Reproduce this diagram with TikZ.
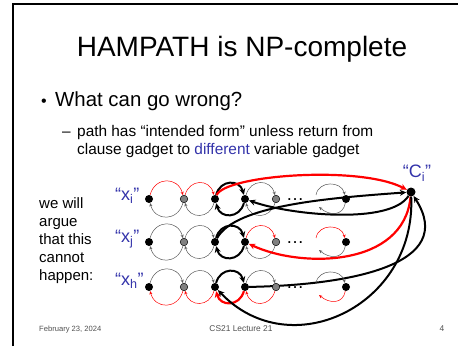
\documentclass[tikz,border=0pt]{standalone}
\usepackage{fontspec}
\setmainfont{Liberation Sans}
\usetikzlibrary{arrows.meta}
\definecolor{slblue}{RGB}{51,51,170}
\definecolor{arcgray}{RGB}{90,90,90}
\definecolor{pred}{RGB}{255,0,0}
\definecolor{nodegray}{RGB}{128,128,128}
\definecolor{footgray}{RGB}{80,80,80}
\pgfdeclarelayer{bg}
\pgfsetlayers{bg,main}
\begin{document}
\begin{tikzpicture}[x=1pt,y=1pt,
  vtx/.style={circle,fill=black,inner sep=0pt,minimum size=8pt},
  cvtx/.style={circle,fill=black,inner sep=0pt,minimum size=9pt},
  gvtx/.style={circle,fill=nodegray,draw=black,line width=0.5pt,inner sep=0pt,minimum size=7.5pt},
  dotsnode/.style={font=\fontsize{18}{18}\selectfont,inner sep=0pt,anchor=base},
  tarc/.style={line width=0.5pt,draw=arcgray,-{Stealth[length=3.5pt,width=3pt]}},
  tred/.style={line width=0.5pt,draw=pred,-{Stealth[length=3.5pt,width=3pt]}},
  karc/.style={line width=2pt,draw=black,-{Stealth[length=6.5pt,width=6pt]}},
  kred/.style={line width=2.2pt,draw=pred,-{Stealth[length=6.5pt,width=6pt]}},
  arcup/.style={out=75,in=105,looseness=1.5},
  arcdown/.style={out=-105,in=-75,looseness=1.5},
  parcup/.style={out=80,in=105,looseness=1.3},
  parcdown/.style={out=-100,in=-40,looseness=1.3},
  lbl/.style={font=\fontsize{18}{20}\selectfont,text=slblue,inner sep=0pt},
  foot/.style={text=footgray,inner sep=0pt,anchor=base}
]
\useasboundingbox (0,0) rectangle (458,346);
% slide frame
\draw[line width=2.3pt,line join=miter] (13,0) -- (13,342) -- (458,342);

% title and text
\node[inner sep=0pt,anchor=base,font=\fontsize{28}{30}\selectfont] (title) at (242,289) {HAMPATH is NP-complete};
\node[inner sep=0pt,anchor=base,font=\fontsize{16}{18}\selectfont] (bul) at (44,239) {•};
\node[inner sep=0pt,anchor=base west,font=\fontsize{20.4}{24}\selectfont] (l1) at (55,239) {What can go wrong?};
\node[inner sep=0pt,anchor=base west,font=\fontsize{15.4}{18}\selectfont] (dash) at (62,209) {–};
\node[inner sep=0pt,anchor=base west,font=\fontsize{15.4}{18}\selectfont] (l2) at (77,209)
  {\parbox[t]{300pt}{\raggedright path has “intended form” unless return from\\
   clause gadget to \textcolor{slblue}{different} variable gadget}};
\node[inner sep=0pt,anchor=base west,font=\fontsize{15}{18}\selectfont] (side) at (39,138)
  {\parbox[t]{75pt}{\raggedright we will\\ argue\\ that this\\ cannot\\ happen:}};

% footer
\node[foot,anchor=base west,font=\fontsize{7.6}{9}\selectfont] (date) at (39,15) {February 23, 2024};
\node[foot,font=\fontsize{8.4}{10}\selectfont] (lect) at (241,15) {CS21 Lecture 21};
\node[foot,font=\fontsize{8.4}{10}\selectfont] (pnum) at (442,15) {4};

% variable gadget labels
\node[lbl,anchor=base west] (xi) at (115,146) {“x\textsubscript{i}”};
\node[lbl,anchor=base west] (xj) at (115,104) {“x\textsubscript{j}”};
\node[lbl,anchor=base west] (xh) at (115,61) {“x\textsubscript{h}”};

% clause node
\node[cvtx] (ci) at (411,154) {};
\node[lbl,anchor=base] (cil) at (417,168) {“C\textsubscript{i}”};

% rows of nodes
\foreach \r/\y in {1/147,2/104,3/59} {
  \node[vtx] (a\r) at (149,\y) {};
  \node[gvtx] (b\r) at (184,\y) {};
  \node[vtx] (c\r) at (215,\y) {};
  \node[vtx] (d\r) at (245,\y) {};
  \node[gvtx] (e\r) at (276,\y) {};
  \node[vtx] (f\r) at (346,\y) {};
  \node[dotsnode] (g\r) at (295,\y-1.8) {…};
  \coordinate (pu\r) at (316,\y+4);
  \coordinate (pl\r) at (319,\y-8);
}

% row x_i
\draw[tred] (a1) to[arcup] (b1);
\draw[tarc] (b1) to[arcdown] (a1);
\draw[tred] (b1) to[arcup] (c1);
\draw[tarc] (c1) to[arcdown] (b1);
\draw[karc] (c1) to[arcup] (d1);
\draw[karc] (d1) to[arcdown] (c1);
\draw[tarc] (d1) to[arcup] (e1);
\draw[tarc] (e1) to[arcdown] (d1);
\draw[tarc] (pu1) to[parcup] (f1);
\draw[tarc] (f1) to[parcdown] (pl1);

% row x_j
\draw[tarc] (a2) to[arcup] (b2);
\draw[tarc] (b2) to[arcdown] (a2);
\draw[tarc] (b2) to[arcup] (c2);
\draw[tarc] (c2) to[arcdown] (b2);
\draw[karc] (c2) to[arcup] (d2);
\draw[karc] (d2) to[arcdown] (c2);
\draw[tred] (d2) to[arcup] (e2);
\draw[tarc] (e2) to[arcdown] (d2);
\draw[tred] (pu2) to[parcup] (f2);
\draw[tarc] (f2) to[parcdown] (pl2);

% row x_h
\draw[tarc] (a3) to[arcup] (b3);
\draw[tred] (b3) to[arcdown] (a3);
\draw[tarc] (b3) to[arcup] (c3);
\draw[tred] (c3) to[arcdown] (b3);
\draw[karc] (c3) to[arcup] (d3);
\draw[kred] (d3) to[arcdown] (c3);
\draw[tarc] (d3) to[arcup] (e3);
\draw[tred] (e3) to[arcdown] (d3);
\draw[tarc] (pu3) to[parcup] (f3);
\draw[tred] (f3) to[parcdown] (pl3);

% clause connections
\draw[kred] (c1) .. controls (225,171) and (360,181) .. (ci);
\draw[karc] (ci) .. controls (390,121) and (290,131) .. (d1);
\draw[karc] (c2) .. controls (235,141) and (330,148) .. (ci);
\draw[kred] (ci) .. controls (404,78) and (300,78) .. (d2);
\begin{pgfonlayer}{bg}
\draw[karc] (d3) .. controls (350,61) and (458,81) .. (ci);
\end{pgfonlayer}
\draw[karc] (ci) .. controls (416,40) and (290,-20) .. (c3);
\end{tikzpicture}
\end{document}
